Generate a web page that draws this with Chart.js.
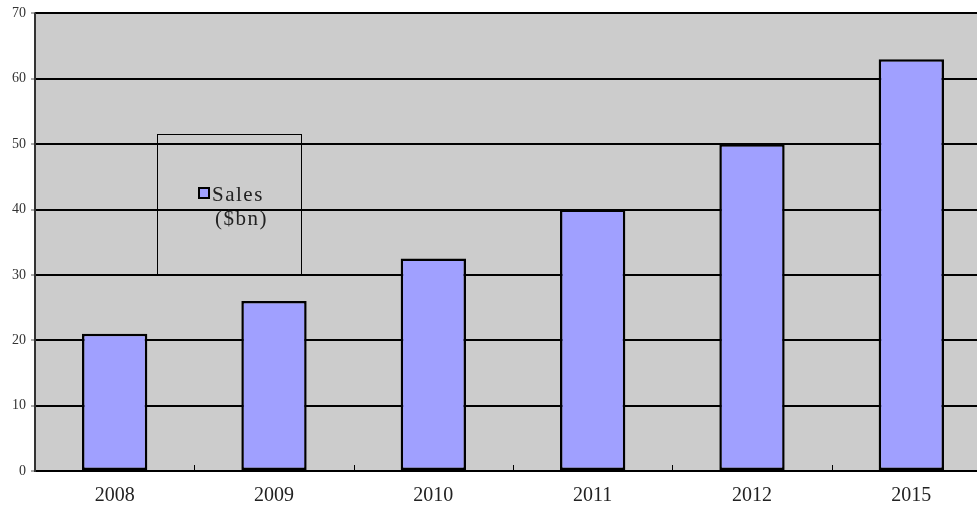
<!DOCTYPE html>
<html>
<head>
<meta charset="utf-8">
<script src="https://cdn.jsdelivr.net/npm/chart.js@4"></script>
<style>
  html, body { margin: 0; padding: 0; background: #fff; overflow: hidden; }
  #wrap { width: 1000px; height: 509px; }
</style>
</head>
<body>
<div id="wrap"><canvas id="ventas" width="1000" height="509"></canvas></div>
<script>
// Datos del gráfico
const years = ['2008', '2009', '2010', '2011', '2012', '2015'];
const sales = [21, 26, 32.5, 40, 50, 63];
const yTicks = [0, 10, 20, 30, 40, 50, 60, 70];

const barColor = '#a0a0ff';
const plotGray = '#cccccc';

// fondo gris del area del grafico
const fondoPlugin = {
    id: 'fondo',
    beforeDraw(chart) {
        const { ctx, chartArea: a } = chart;
        ctx.save();
        ctx.fillStyle = plotGray;
        ctx.fillRect(a.left, a.top, a.right - a.left, a.bottom - a.top);
        ctx.restore();
    }
};

// marcas pequeñas del eje x y leyenda dentro del grafico
const extrasPlugin = {
    id: 'extras',
    afterDraw(chart) {
        const { ctx, chartArea: a, scales } = chart;
        const x = scales.x;
        ctx.save();
        ctx.strokeStyle = '#000';
        ctx.lineWidth = 1;
        const step = x.getPixelForValue(1) - x.getPixelForValue(0);
        for (let i = 0; i < years.length - 1; i++) {
            const px = Math.round(x.getPixelForValue(i) + step / 2) + 0.5;
            ctx.beginPath();
            ctx.moveTo(px, a.bottom);
            ctx.lineTo(px, a.bottom - 6);
            ctx.stroke();
        }
        // eje izquierdo
        ctx.strokeStyle = '#333';
        ctx.lineWidth = 2;
        ctx.beginPath();
        ctx.moveTo(a.left, a.top - 1);
        ctx.lineTo(a.left, a.bottom + 1);
        ctx.stroke();

        // leyenda
        ctx.strokeStyle = '#000';
        ctx.lineWidth = 1;
        ctx.strokeRect(157.5, 134.5, 144, 140);
        ctx.fillStyle = barColor;
        ctx.fillRect(199, 188, 10, 10);
        ctx.lineWidth = 2;
        ctx.strokeRect(199, 188, 10, 10);
        const label = chart.data.datasets[0].label.split(' ');
        ctx.fillStyle = '#222';
        ctx.font = '21px "Liberation Serif"';
        ctx.letterSpacing = '1.5px';
        ctx.textBaseline = 'middle';
        ctx.textAlign = 'left';
        ctx.fillText(label[0], 212, 195);
        ctx.fillText(label[1], 215, 219);
        ctx.restore();
    }
};

const config = {
    type: 'bar',
    data: {
        labels: years,
        datasets: [{
            label: 'Sales ($bn)',
            data: sales,
            backgroundColor: barColor,
            borderColor: '#000',
            borderWidth: 2.5,
            borderSkipped: false,
            barPercentage: 0.41,
            categoryPercentage: 1
        }]
    },
    options: {
        responsive: false,
        animation: false,
        layout: { padding: { top: 13, right: 9, left: 0, bottom: 0 } },
        plugins: {
            legend: { display: false },
            tooltip: { enabled: false }
        },
        scales: {
            x: {
                grid: { display: false },
                border: { display: true, color: '#000', width: 2 },
                ticks: {
                    color: '#222',
                    font: { family: 'Liberation Serif', size: 20 },
                    padding: 5,
                    maxRotation: 0
                },
                afterFit: s => { s.height = 38; }
            },
            y: {
                min: 0,
                max: 70,
                afterBuildTicks: s => { s.ticks = yTicks.map(v => ({ value: v })); },
                grid: {
                    color: '#000',
                    lineWidth: 2,
                    tickLength: 4,
                    tickColor: '#555',
                    tickWidth: 1
                },
                border: { display: false },
                ticks: {
                    color: '#333',
                    font: { family: 'Liberation Serif', size: 14 },
                    padding: 5
                },
                afterFit: s => { s.width = 35; }
            }
        }
    },
    plugins: [fondoPlugin, extrasPlugin]
};

const grafico = new Chart(document.getElementById('ventas'), config);
</script>
</body>
</html>
